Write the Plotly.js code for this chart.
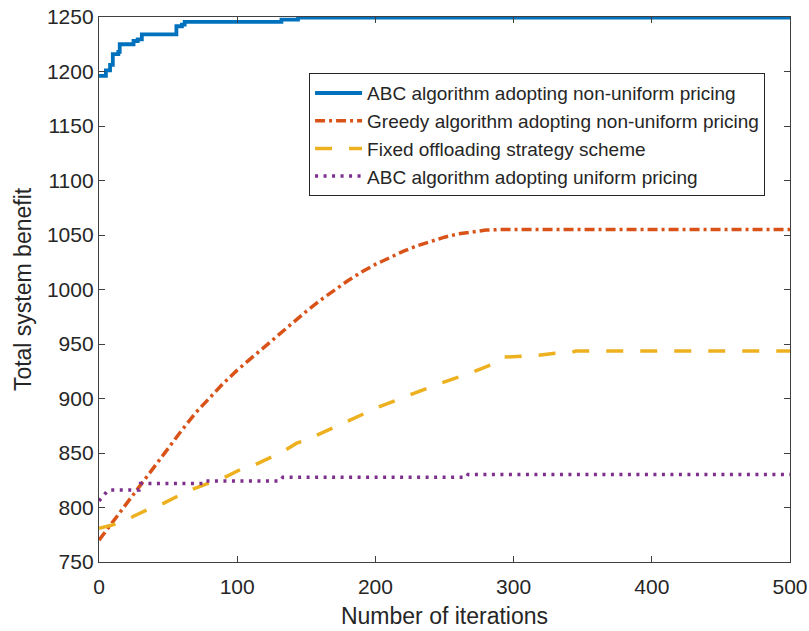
<!DOCTYPE html>
<html>
<head>
<meta charset="utf-8">
<script src="https://cdn.plot.ly/plotly-3.0.1.min.js"></script>
<style>html,body{margin:0;padding:0;background:#fff;}#chart{width:809px;height:631px;}</style>
</head>
<body>
<div id="chart"></div>
<script>
// ABC algorithm adopting non-uniform pricing (step curve)
var abcNonUniformX = [0, 5, 8, 10, 14, 15, 25, 28, 31, 56, 60, 62, 132, 144, 500];
var abcNonUniformY = [1196, 1201, 1206, 1216, 1218, 1225, 1228, 1229.5, 1234, 1241.5, 1243, 1245.5, 1247.5, 1249.5, 1249.5];

// Greedy algorithm adopting non-uniform pricing
var greedyX = [0, 10, 20, 30, 40, 50, 60, 70, 80, 90, 100, 110, 120, 130, 140, 150, 160, 170, 180, 190, 200, 210, 220, 230, 240, 250, 260, 270, 280, 290, 500];
var greedyY = [770, 787, 804, 821, 838, 855, 871, 887, 901, 914, 926, 937, 948, 959, 970, 980, 990, 999, 1008, 1016, 1023, 1029, 1035, 1040, 1044, 1048, 1051, 1053, 1054.5, 1055, 1055];

// Fixed offloading strategy scheme
var fixedX = [0, 10, 22, 25, 42, 47, 61, 66, 85, 90, 104, 109, 126, 129, 143, 150, 203, 225, 247, 268, 290, 293, 305, 317, 330, 341, 345, 500];
var fixedY = [781, 784, 790, 792, 802, 804, 813, 816, 825, 827, 836, 837, 847, 848, 859, 862, 892.5, 903, 914, 923, 934, 938, 939, 939.5, 941.5, 942, 943.5, 943.5];

// ABC algorithm adopting uniform pricing
var abcUniformX = [0, 3, 6, 8, 29, 30, 75, 76, 131, 133, 266, 267, 500];
var abcUniformY = [806, 811, 815, 816, 816, 822, 822, 824.3, 824.3, 827.7, 827.7, 830.2, 830.2];

var seriesNames = [
  'ABC algorithm adopting non-uniform pricing',
  'Greedy algorithm adopting non-uniform pricing',
  'Fixed offloading strategy scheme',
  'ABC algorithm adopting uniform pricing'
];
var xTicks = [0, 100, 200, 300, 400, 500];
var yTicks = [750, 800, 850, 900, 950, 1000, 1050, 1100, 1150, 1200, 1250];

var traces = [
  {x: abcNonUniformX, y: abcNonUniformY, name: seriesNames[0], mode: 'lines',
   line: {color: '#0072BD', width: 3.8, shape: 'hv'}},
  {x: greedyX, y: greedyY, name: seriesNames[1], mode: 'lines',
   line: {color: '#D95319', width: 3.5, dash: '10px,4px,3px,4px'}},
  {x: fixedX, y: fixedY, name: seriesNames[2], mode: 'lines',
   line: {color: '#EDB120', width: 3.5, dash: '17px,17px'}},
  {x: abcUniformX, y: abcUniformY, name: seriesNames[3], mode: 'lines',
   line: {color: '#7E2F8E', width: 3.5, dash: '3px,5.5px'}}
];

var axisCommon = {
  showgrid: false, zeroline: false, showline: true, mirror: 'ticks',
  linecolor: '#404040', linewidth: 1.2, ticks: 'inside', ticklen: 6,
  tickcolor: '#404040', tickwidth: 1,
  tickfont: {family: 'Liberation Sans, Arial, sans-serif', size: 21, color: '#262626'}
};

var layout = {
  width: 809, height: 631,
  margin: {l: 99, r: 19, t: 17, b: 69},
  paper_bgcolor: '#ffffff', plot_bgcolor: '#ffffff',
  showlegend: true,
  legend: {
    x: 0.304, y: 0.897, xanchor: 'left', yanchor: 'top',
    bgcolor: '#ffffff', bordercolor: '#262626', borderwidth: 1,
    font: {family: 'Liberation Sans, Arial, sans-serif', size: 19, color: '#262626'},
    itemwidth: 47, tracegroupgap: 0
  },
  xaxis: Object.assign({}, axisCommon, {
    range: [0, 500], tickvals: xTicks, ticktext: xTicks.map(String),
    ticklabelstandoff: 6,
    title: {text: 'Number of iterations', standoff: 10,
      font: {family: 'Liberation Sans, Arial, sans-serif', size: 23, color: '#262626'}}
  }),
  yaxis: Object.assign({}, axisCommon, {
    range: [750, 1250], tickvals: yTicks, ticktext: yTicks.map(String),
    title: {text: 'Total system benefit', standoff: 8,
      font: {family: 'Liberation Sans, Arial, sans-serif', size: 23, color: '#262626'}}
  })
};

Plotly.newPlot('chart', traces, layout, {displayModeBar: false, staticPlot: true});
</script>
</body>
</html>
